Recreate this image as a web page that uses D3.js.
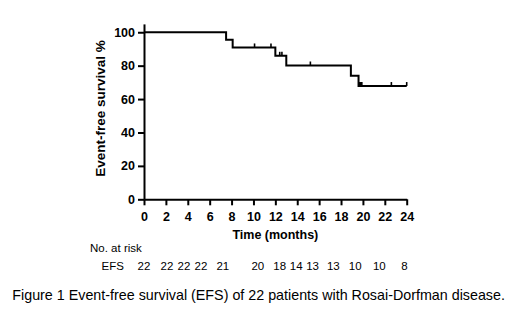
<!DOCTYPE html>
<html>
<head>
<meta charset="utf-8">
<script src="https://cdn.jsdelivr.net/npm/d3@7"></script>
<style>
  body { margin: 0; background: #fff; }
  svg { display: block; font-family: Arial, "Liberation Sans", sans-serif; }
</style>
</head>
<body>
<svg id="chart" width="520" height="333"></svg>
<script>
// --- Données ---
const stepTimes = [0, 7.5, 8.1, 12.0, 13.0, 18.9, 19.6];       // mois où la courbe descend
const stepSurvival = [100, 95.5, 90.9, 85.9, 80.1, 74.0, 67.8]; // EFS % après chaque pas
const censorTimes = [10.1, 11.6, 12.4, 12.6, 15.2, 19.7, 19.8, 19.9, 22.6, 24];
const riskCounts = [22, 22, 22, 22, 21, 20, 18, 14, 13, 13, 10, 10, 8];
// où les effectifs sont posés dans la figure (en mois, pas tout à fait sur les ticks)
const riskLabelAt = [0, 2.1, 3.65, 5.2, 7.2, 10.4, 12.4, 13.9, 15.4, 17.3, 19.3, 21.5, 23.8];
const xTicks = [0, 2, 4, 6, 8, 10, 12, 14, 16, 18, 20, 22, 24];
const yTicks = [0, 20, 40, 60, 80, 100];
const endTime = 24;

const svg = d3.select("#chart");

const x = d3.scaleLinear().domain([0, 24]).range([144, 406.7]);
const y = d3.scaleLinear().domain([0, 105]).range([199.3, 23.9]);

// --- Axes ---
const xAxis = svg.append("g")
    .attr("transform", `translate(0,${y(0)})`)
    .call(d3.axisBottom(x).tickValues(xTicks).tickSize(6).tickSizeOuter(0).tickPadding(7));

const yAxis = svg.append("g")
    .attr("transform", `translate(${x(0)},0)`)
    .call(d3.axisLeft(y).tickValues(yTicks).tickSize(6).tickSizeOuter(0).tickPadding(3));

[xAxis, yAxis].forEach(a => {
    a.select(".domain").attr("stroke", "#000").attr("stroke-width", 2);
    a.selectAll(".tick line").attr("stroke", "#000").attr("stroke-width", 2);
    a.selectAll(".tick text")
        .attr("fill", "#000")
        .style("font-size", "12.5px")
        .style("font-weight", "bold")
        .style("font-family", "Arial, 'Liberation Sans', sans-serif");
});

// --- Courbe de Kaplan-Meier ---
const survAt = t => {
    let s = stepSurvival[0];
    stepTimes.forEach((st, i) => { if (st <= t) s = stepSurvival[i]; });
    return s;
};

const pts = stepTimes.map((t, i) => [t, stepSurvival[i]]);
pts.push([endTime, stepSurvival[stepSurvival.length - 1]]);

const line = d3.line()
    .x(d => x(d[0]))
    .y(d => y(d[1]))
    .curve(d3.curveStepAfter);

svg.append("path")
    .datum(pts)
    .attr("d", line)
    .attr("fill", "none")
    .attr("stroke", "#000")
    .attr("stroke-width", 2);

// marques de censure
svg.append("g").selectAll("line")
    .data(censorTimes)
    .join("line")
    .attr("x1", d => x(d)).attr("x2", d => x(d))
    .attr("y1", d => y(survAt(d)))
    .attr("y2", d => y(survAt(d)) - 4)
    .attr("stroke", "#000")
    .attr("stroke-width", 1.6);

// --- Titres ---
svg.append("text")
    .attr("transform", `translate(105,108.5) rotate(-90)`)
    .attr("text-anchor", "middle")
    .style("font-size", "13.5px")
    .style("font-weight", "bold")
    .text("Event-free survival %");

svg.append("text")
    .attr("x", x(12))
    .attr("y", 239)
    .attr("text-anchor", "middle")
    .style("font-size", "12.5px")
    .style("font-weight", "bold")
    .text("Time (months)");

// --- Nombre de sujets à risque ---
svg.append("text")
    .attr("x", 90)
    .attr("y", 251.5)
    .style("font-size", "11.5px")
    .text("No. at risk");

svg.append("text")
    .attr("x", 101.5)
    .attr("y", 270)
    .style("font-size", "11.5px")
    .text("EFS");

svg.append("g").selectAll("text")
    .data(riskCounts)
    .join("text")
    .attr("x", (d, i) => x(riskLabelAt[i]))
    .attr("y", 270)
    .attr("text-anchor", "middle")
    .style("font-size", "11.5px")
    .text(d => d);

// --- Légende de la figure ---
svg.append("text")
    .attr("x", 12.3)
    .attr("y", 300)
    .style("font-size", "14.3px")
    .text("Figure 1 Event-free survival (EFS) of 22 patients with Rosai-Dorfman disease.");
</script>
</body>
</html>
